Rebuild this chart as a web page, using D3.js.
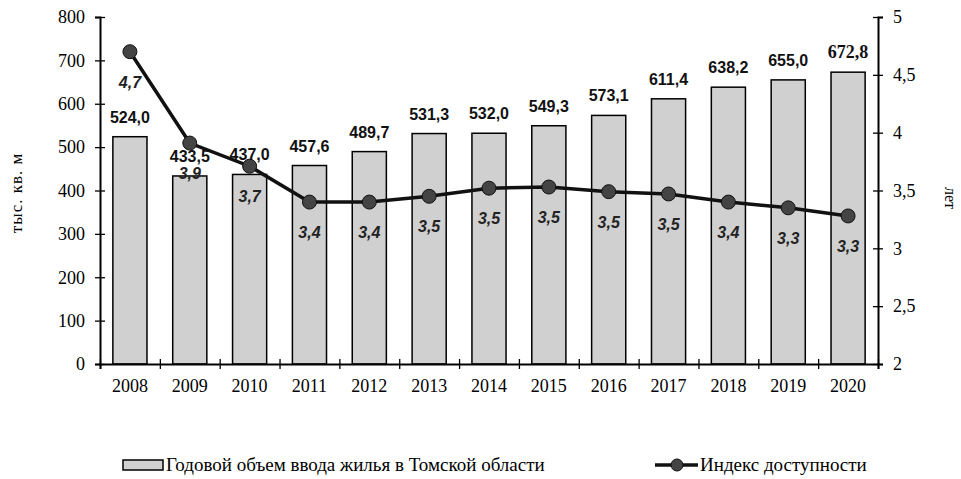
<!DOCTYPE html>
<html>
<head>
  <meta charset="utf-8">
  <title>Ввод жилья и индекс доступности</title>
  <script src="https://d3js.org/d3.v7.min.js"></script>
  <style>
    body { margin: 0; background: #fff; }
    .serif { font-family: "Liberation Serif", "DejaVu Serif", serif; }
    .sans { font-family: "Liberation Sans", Arial, sans-serif; }
  </style>
</head>
<body>
<svg id="chart" width="961" height="479"></svg>
<script>
// data
const years = ["2008", "2009", "2010", "2011", "2012", "2013", "2014", "2015", "2016", "2017", "2018", "2019", "2020"];
const housing = [524.0, 433.5, 437.0, 457.6, 489.7, 531.3, 532.0, 549.3, 573.1, 611.4, 638.2, 655.0, 672.8];
// index plotted with more precision than the labels show
const indexValues = [4.70, 3.91, 3.71, 3.40, 3.40, 3.45, 3.52, 3.53, 3.49, 3.47, 3.40, 3.35, 3.28];
const indexLabels = ["4,7", "3,9", "3,7", "3,4", "3,4", "3,5", "3,5", "3,5", "3,5", "3,5", "3,4", "3,3", "3,3"];
const leftTicks = [0, 100, 200, 300, 400, 500, 600, 700, 800];
const rightTicks = [2, 2.5, 3, 3.5, 4, 4.5, 5];
const legendNames = ["Годовой объем ввода жилья в Томской области", "Индекс доступности"];

const svg = d3.select("#chart");

const plotLeft = 100, plotRight = 878, plotTop = 17, plotBottom = 364;

const x = d3.scaleBand()
    .domain(years)
    .range([plotLeft, plotRight])
    .paddingInner(0.43)
    .paddingOuter(0.215);

const yL = d3.scaleLinear().domain([0, 800]).range([plotBottom, plotTop]);
const yR = d3.scaleLinear().domain([2, 5]).range([plotBottom, plotTop]);

// bars
svg.append("g")
    .selectAll("rect")
    .data(housing)
    .join("rect")
    .attr("x", (d, i) => x(years[i]))
    .attr("y", d => yL(d))
    .attr("width", x.bandwidth())
    .attr("height", d => plotBottom - yL(d))
    .attr("fill", "#d0d0d0")
    .attr("stroke", "#000")
    .attr("stroke-width", 1.5);

// axes
const fmt = d => String(d).replace(".", ",");

const gL = svg.append("g")
    .attr("transform", `translate(${plotLeft},0)`)
    .call(d3.axisLeft(yL).tickValues(leftTicks).tickSize(5).tickPadding(10));
gL.selectAll(".tick line").attr("x1", 5);

const gR = svg.append("g")
    .attr("transform", `translate(${plotRight},0)`)
    .call(d3.axisRight(yR).tickValues(rightTicks).tickSize(5).tickPadding(10).tickFormat(fmt));
gR.selectAll(".tick line").attr("x1", -5);

// x axis: ticks on category borders, labels in the middle
const xb = d3.scaleLinear().domain([0, years.length]).range([plotLeft, plotRight]);
const gB = svg.append("g")
    .attr("transform", `translate(0,${plotBottom})`)
    .call(d3.axisBottom(xb).tickValues(d3.range(0, years.length + 1)).tickSize(5).tickFormat(""));
gB.selectAll(".tick line").attr("y1", -5);

svg.append("g")
    .attr("transform", `translate(0,${plotBottom})`)
    .call(d3.axisBottom(x).tickSize(0).tickPadding(15))
    .select(".domain").remove();

svg.selectAll(".domain").attr("stroke-width", 2).attr("stroke", "#000");
svg.selectAll(".tick line").attr("stroke-width", 1.3).attr("stroke", "#000");
svg.selectAll(".tick text")
    .attr("class", "serif")
    .attr("font-family", null)
    .style("font-size", "18px")
    .attr("fill", "#000");

// axis titles
svg.append("text")
    .attr("class", "serif")
    .attr("transform", "translate(22,193) rotate(-90)")
    .attr("text-anchor", "middle")
    .style("font-size", "17px")
    .style("letter-spacing", "1px")
    .text("тыс. кв. м");

svg.append("text")
    .attr("class", "serif")
    .attr("transform", "translate(945,198) rotate(90)")
    .attr("text-anchor", "middle")
    .style("font-size", "16px")
    .text("лет");

// line
const cx = (d, i) => x(years[i]) + x.bandwidth() / 2;

svg.append("path")
    .datum(indexValues)
    .attr("d", d3.line().x(cx).y(d => yR(d)))
    .attr("fill", "none")
    .attr("stroke", "#111")
    .attr("stroke-width", 3.5);

svg.append("g")
    .selectAll("circle")
    .data(indexValues)
    .join("circle")
    .attr("cx", cx)
    .attr("cy", d => yR(d))
    .attr("r", 7)
    .attr("fill", "#444")
    .attr("stroke", "#111")
    .attr("stroke-width", 1);

// bar labels
svg.append("g")
    .selectAll("text")
    .data(housing)
    .join("text")
    .attr("class", (d, i) => i === years.length - 1 ? "serif" : "sans")
    .attr("x", cx)
    .attr("y", d => yL(d) - 14)
    .attr("text-anchor", "middle")
    .style("font-size", (d, i) => i === years.length - 1 ? "18px" : "16px")
    .attr("font-weight", "bold")
    .attr("fill", "#111")
    .text(d => d.toFixed(1).replace(".", ","));

// index labels
svg.append("g")
    .selectAll("text")
    .data(indexValues)
    .join("text")
    .attr("class", "sans")
    .attr("x", cx)
    .attr("y", d => yR(d) + 36)
    .attr("text-anchor", "middle")
    .style("font-size", "16px")
    .attr("font-weight", "bold")
    .attr("font-style", "italic")
    .attr("fill", "#222")
    .text((d, i) => indexLabels[i]);

// legend
const lg = svg.append("g");
lg.append("rect")
    .attr("x", 123).attr("y", 460)
    .attr("width", 40).attr("height", 10)
    .attr("fill", "#d0d0d0")
    .attr("stroke", "#000")
    .attr("stroke-width", 1.5);
lg.append("text")
    .attr("class", "serif")
    .attr("x", 166).attr("y", 471)
    .style("font-size", "19px")
    .text(legendNames[0]);

lg.append("line")
    .attr("x1", 655).attr("x2", 698)
    .attr("y1", 465).attr("y2", 465)
    .attr("stroke", "#111")
    .attr("stroke-width", 3.5);
lg.append("circle")
    .attr("cx", 677).attr("cy", 465).attr("r", 6)
    .attr("fill", "#444")
    .attr("stroke", "#111");
lg.append("text")
    .attr("class", "serif")
    .attr("x", 700).attr("y", 471)
    .style("font-size", "19px")
    .text(legendNames[1]);
</script>
</body>
</html>
